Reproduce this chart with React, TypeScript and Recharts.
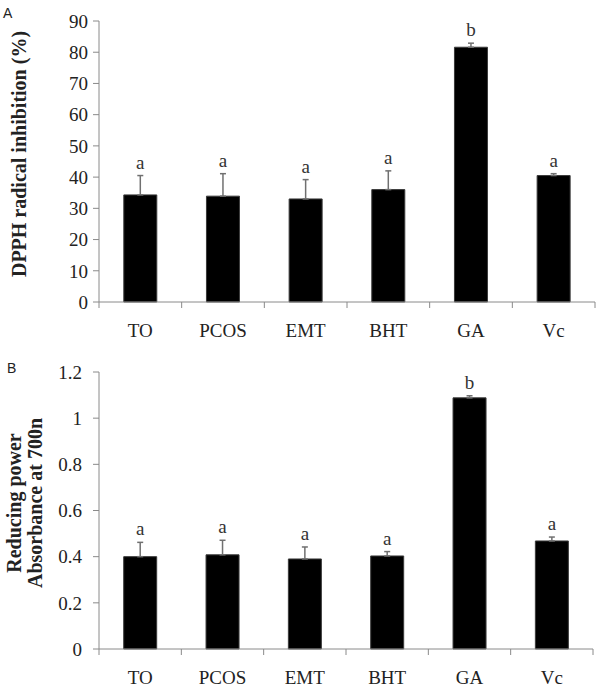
import { BarChart, Bar, XAxis, YAxis, ErrorBar, LabelList } from 'recharts'

const CATEGORIES = ['TO', 'PCOS', 'EMT', 'BHT', 'GA', 'Vc']

// panel A: DPPH radical inhibition (%)
const DPPH = [34.3, 33.9, 33.0, 36.0, 81.6, 40.5]
const DPPH_ERR = [6.2, 7.2, 6.2, 6.0, 1.3, 0.6]
const DPPH_GROUPS = ['a', 'a', 'a', 'a', 'b', 'a']
const DPPH_TICKS = [0, 10, 20, 30, 40, 50, 60, 70, 80, 90]

// panel B: reducing power, absorbance at 700 nm
const POWER = [0.4, 0.408, 0.39, 0.403, 1.088, 0.468]
const POWER_ERR = [0.062, 0.063, 0.052, 0.019, 0.009, 0.017]
const POWER_GROUPS = ['a', 'a', 'a', 'a', 'b', 'a']
const POWER_TICKS = [0, 0.2, 0.4, 0.6, 0.8, 1, 1.2]

const SERIF = '"Liberation Serif", "Times New Roman", serif'
const AXIS = '#8a8a8a'
const INK = '#222'
const CAT_MARGIN = 22

function buildRows(values: number[], errs: number[], groups: string[]) {
  return CATEGORIES.map((name, i) => ({
    name,
    value: values[i],
    err: [0, errs[i]],
    errSpan: errs[i],
    group: groups[i],
  }))
}

// category label plus Excel-style tick marks on the band edges
function CategoryTick(props: any) {
  const { x, y, width, payload, index, visibleTicksCount } = props
  const half = width / visibleTicksCount / 2
  const axisY = y - CAT_MARGIN
  return (
    <g>
      <line x1={x - half} x2={x - half} y1={axisY} y2={axisY + 6} stroke={AXIS} />
      {index === visibleTicksCount - 1 && (
        <line x1={x + half} x2={x + half} y1={axisY} y2={axisY + 6} stroke={AXIS} />
      )}
      <text x={x} y={y} dy="0.71em" textAnchor="middle" fontFamily={SERIF} fontSize={19} fill={INK}>
        {payload.value}
      </text>
    </g>
  )
}

interface PanelProps {
  rows: ReturnType<typeof buildRows>
  ticks: number[]
  height: number
  top: number
  right: number
  tickMargin: number
  yLabel: (props: any) => React.ReactNode
}

function Panel({ rows, ticks, height, top, right, tickMargin, yLabel }: PanelProps) {
  return (
    <BarChart
      width={600}
      height={height}
      data={rows}
      margin={{ top, right, bottom: 0, left: 0 }}
      barCategoryGap="30%"
      style={{ fontFamily: SERIF }}
    >
      <XAxis
        dataKey="name"
        stroke={AXIS}
        tickLine={false}
        tickSize={0}
        tickMargin={CAT_MARGIN}
        interval={0}
        height={44}
        tick={<CategoryTick />}
      />
      <YAxis
        domain={[ticks[0], ticks[ticks.length - 1]]}
        ticks={ticks}
        interval={0}
        width={99}
        tickSize={6}
        tickMargin={tickMargin}
        stroke={AXIS}
        tick={{ fontSize: 19, fill: INK, fontFamily: SERIF }}
        label={yLabel}
      />
      <Bar
        dataKey="value"
        stackId="s"
        fill="#000"
        stroke="#3a3a3a"
        strokeWidth={1}
        isAnimationActive={false}
      >
        <ErrorBar dataKey="err" width={3} stroke="#707070" strokeWidth={1.5} direction="y" />
      </Bar>
      <Bar dataKey="errSpan" stackId="s" fill="transparent" isAnimationActive={false}>
        <LabelList
          dataKey="group"
          position="top"
          offset={7}
          style={{ fontSize: 19, fill: '#333', fontFamily: SERIF }}
        />
      </Bar>
    </BarChart>
  )
}

const labelA = () => (
  <text
    transform="rotate(-90)"
    x={-154}
    y={26}
    textAnchor="middle"
    fontFamily={SERIF}
    fontWeight="bold"
    fontSize={20}
    fill={INK}
  >
    DPPH radical inhibition (%)
  </text>
)

const labelB = () => (
  <text
    transform="rotate(-90)"
    textAnchor="middle"
    fontFamily={SERIF}
    fontWeight="bold"
    fontSize={20}
    fill={INK}
  >
    <tspan x={-157} y={21}>Reducing power</tspan>
    <tspan x={-157} y={42}>Absorbance at 700n</tspan>
  </text>
)

const letterStyle = {
  position: 'absolute' as const,
  fontFamily: '"Liberation Sans", Arial, sans-serif',
  fontSize: 14,
  color: INK,
  lineHeight: '16px',
}

export default function App() {
  return (
    <div
      style={{
        position: 'absolute',
        left: 0,
        top: 0,
        width: 600,
        height: 693,
        background: '#fff',
        fontFamily: SERIF,
      }}
    >
      <Panel
        rows={buildRows(DPPH, DPPH_ERR, DPPH_GROUPS)}
        ticks={DPPH_TICKS}
        height={346}
        top={21}
        right={5}
        tickMargin={5}
        yLabel={labelA}
      />
      <Panel
        rows={buildRows(POWER, POWER_ERR, POWER_GROUPS)}
        ticks={POWER_TICKS}
        height={347}
        top={26}
        right={7}
        tickMargin={11}
        yLabel={labelB}
      />
      <div style={{ ...letterStyle, left: 3, top: 5 }}>A</div>
      <div style={{ ...letterStyle, left: 7, top: 360 }}>B</div>
    </div>
  )
}
